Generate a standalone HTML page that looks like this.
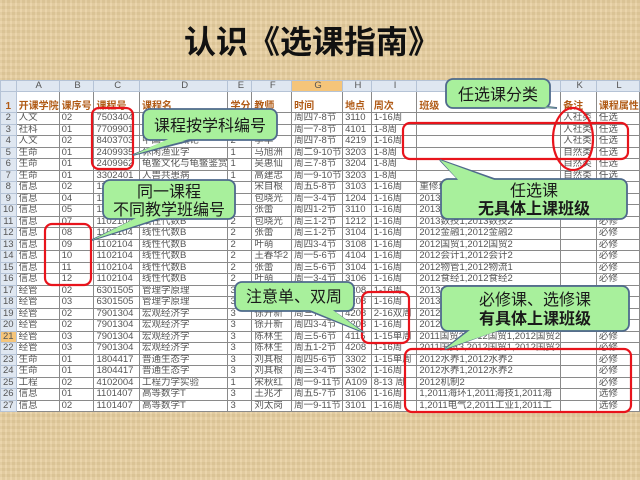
<!DOCTYPE html>
<html><head><meta charset="utf-8"><style>
body{margin:0;width:640px;height:480px;overflow:hidden;background:#e8cf9f;position:relative;font-family:"Liberation Sans","Noto Sans CJK SC",sans-serif}
.bg{position:absolute;inset:0;background:repeating-linear-gradient(90deg,rgba(255,255,255,.08) 0 2px,rgba(0,0,0,.03) 2px 5px),repeating-linear-gradient(0deg,rgba(255,255,255,.06) 0 3px,rgba(0,0,0,.03) 3px 6px)}
h1{position:absolute;left:0;width:624px;top:17px;margin:0;text-align:center;font:bold 32px "Liberation Sans","Noto Sans CJK SC",sans-serif;color:#111}
table{position:absolute;left:0;top:80px;border-collapse:collapse;table-layout:fixed;background:#fff;font-size:9.5px;color:#555}
td{border:1px solid #8a8a8a;padding:0 0 0 2px;height:10.5px;line-height:10px;white-space:nowrap;overflow:hidden}
tr.l td{background:#dfe7f1;color:#555;text-align:center;height:10px;border-color:#b5c3d6}
tr.h td{height:20px;color:#b05a15;font-weight:bold;vertical-align:bottom;font-size:10px}
td:first-child{background:#dfe7f1;color:#555;text-align:center;padding:0;border-color:#b5c3d6}
.o{background:#f5c57a!important}
svg{position:absolute;left:0;top:0}
</style></head><body><div class="bg"></div>
<h1>认识《选课指南》</h1>
<table>
<colgroup><col style="width:16px"><col style="width:41px"><col style="width:35px"><col style="width:46px"><col style="width:85px"><col style="width:24px"><col style="width:40px"><col style="width:51px"><col style="width:29px"><col style="width:46px"><col style="width:144px"><col style="width:36px"><col style="width:43px"></colgroup>
<tr class="l"><td></td><td>A</td><td>B</td><td>C</td><td>D</td><td>E</td><td>F</td><td class="o">G</td><td>H</td><td>I</td><td>J</td><td>K</td><td>L</td></tr>
<tr class="h"><td>1</td><td>开课学院</td><td>课序号</td><td>课程号</td><td>课程名</td><td>学分</td><td>教师</td><td>时间</td><td>地点</td><td>周次</td><td>班级</td><td>备注</td><td>课程属性</td></tr>
<tr><td>2</td><td>人文</td><td>02</td><td>7503404</td><td>诗词鉴赏</td><td>2</td><td>李明</td><td>周四7-8节</td><td>3110</td><td>1-16周</td><td></td><td>人社类</td><td>任选</td></tr>
<tr><td>3</td><td>社科</td><td>01</td><td>7709901</td><td>人文社科导论</td><td>1</td><td>王平</td><td>周一7-8节</td><td>4101</td><td>1-8周</td><td></td><td>人社类</td><td>任选</td></tr>
<tr><td>4</td><td>人文</td><td>02</td><td>8403703</td><td>中国文化概论</td><td>2</td><td>李华</td><td>周四7-8节</td><td>4219</td><td>1-16周</td><td></td><td>人社类</td><td>任选</td></tr>
<tr><td>5</td><td>生命</td><td>01</td><td>2409935</td><td>休闲渔业学</td><td>1</td><td>马旭洲</td><td>周二9-10节</td><td>3203</td><td>1-8周</td><td></td><td>自然类</td><td>任选</td></tr>
<tr><td>6</td><td>生命</td><td>01</td><td>2409962</td><td>龟鳖文化与龟鳖鉴赏</td><td>1</td><td>吴惠仙</td><td>周三7-8节</td><td>3204</td><td>1-8周</td><td></td><td>自然类</td><td>任选</td></tr>
<tr><td>7</td><td>生命</td><td>01</td><td>3302401</td><td>人兽共患病</td><td>1</td><td>高建忠</td><td>周一9-10节</td><td>3203</td><td>1-8周</td><td></td><td>自然类</td><td>任选</td></tr>
<tr><td>8</td><td>信息</td><td>02</td><td>1102104</td><td>线性代数B</td><td>2</td><td>宋自根</td><td>周五5-8节</td><td>3103</td><td>1-16周</td><td>重修班</td><td></td><td>必修</td></tr>
<tr><td>9</td><td>信息</td><td>04</td><td>1102104</td><td>线性代数B</td><td>2</td><td>包晓光</td><td>周一3-4节</td><td>1204</td><td>1-16周</td><td>2013制药1,2013制药2</td><td></td><td>必修</td></tr>
<tr><td>10</td><td>信息</td><td>05</td><td>1102104</td><td>线性代数B</td><td>2</td><td>张蕾</td><td>周四1-2节</td><td>3110</td><td>1-16周</td><td>2013计算1,2013计算2</td><td></td><td>必修</td></tr>
<tr><td>11</td><td>信息</td><td>07</td><td>1102104</td><td>线性代数B</td><td>2</td><td>包晓光</td><td>周三1-2节</td><td>1212</td><td>1-16周</td><td>2013数技1,2013数技2</td><td></td><td>必修</td></tr>
<tr><td>12</td><td>信息</td><td>08</td><td>1102104</td><td>线性代数B</td><td>2</td><td>张蕾</td><td>周三1-2节</td><td>3104</td><td>1-16周</td><td>2012金融1,2012金融2</td><td></td><td>必修</td></tr>
<tr><td>13</td><td>信息</td><td>09</td><td>1102104</td><td>线性代数B</td><td>2</td><td>叶萌</td><td>周四3-4节</td><td>3108</td><td>1-16周</td><td>2012国贸1,2012国贸2</td><td></td><td>必修</td></tr>
<tr><td>14</td><td>信息</td><td>10</td><td>1102104</td><td>线性代数B</td><td>2</td><td>王春华2</td><td>周一5-6节</td><td>4104</td><td>1-16周</td><td>2012会计1,2012会计2</td><td></td><td>必修</td></tr>
<tr><td>15</td><td>信息</td><td>11</td><td>1102104</td><td>线性代数B</td><td>2</td><td>张蕾</td><td>周三5-6节</td><td>3104</td><td>1-16周</td><td>2012物管1,2012物流1</td><td></td><td>必修</td></tr>
<tr><td>16</td><td>信息</td><td>12</td><td>1102104</td><td>线性代数B</td><td>2</td><td>叶萌</td><td>周一3-4节</td><td>3106</td><td>1-16周</td><td>2012食经1,2012食经2</td><td></td><td>必修</td></tr>
<tr><td>17</td><td>经管</td><td>02</td><td>6301505</td><td>管理学原理</td><td>3</td><td>张明</td><td>周二1-2节</td><td>4208</td><td>1-16周</td><td>2013会计1,2013会计2</td><td></td><td>必修</td></tr>
<tr><td>18</td><td>经管</td><td>03</td><td>6301505</td><td>管理学原理</td><td>3</td><td>张明</td><td>周四1-2节</td><td>4208</td><td>1-16周</td><td>2013食经1,2013食经2</td><td></td><td>必修</td></tr>
<tr><td>19</td><td>经管</td><td>02</td><td>7901304</td><td>宏观经济学</td><td>3</td><td>徐开新</td><td>周三7-8节</td><td>4208</td><td>2-16双周</td><td>2012会计1,2012会计2</td><td></td><td>必修</td></tr>
<tr><td>20</td><td>经管</td><td>02</td><td>7901304</td><td>宏观经济学</td><td>3</td><td>徐开新</td><td>周四3-4节</td><td>4208</td><td>1-16周</td><td>2012会计1,2012会计2</td><td></td><td>必修</td></tr>
<tr><td class="o">21</td><td>经管</td><td>03</td><td>7901304</td><td>宏观经济学</td><td>3</td><td>陈林生</td><td>周三5-6节</td><td>4115</td><td>1-15单周</td><td>2011国贸3,2012国贸1,2012国贸2</td><td></td><td>必修</td></tr>
<tr><td>22</td><td>经管</td><td>03</td><td>7901304</td><td>宏观经济学</td><td>3</td><td>陈林生</td><td>周五1-2节</td><td>4208</td><td>1-16周</td><td>2011国贸3,2012国贸1,2012国贸2</td><td></td><td>必修</td></tr>
<tr><td>23</td><td>生命</td><td>01</td><td>1804417</td><td>普通生态学</td><td>3</td><td>刘其根</td><td>周四5-6节</td><td>3302</td><td>1-15单周</td><td>2012水养1,2012水养2</td><td></td><td>必修</td></tr>
<tr><td>24</td><td>生命</td><td>01</td><td>1804417</td><td>普通生态学</td><td>3</td><td>刘其根</td><td>周三3-4节</td><td>3302</td><td>1-16周</td><td>2012水养1,2012水养2</td><td></td><td>必修</td></tr>
<tr><td>25</td><td>工程</td><td>02</td><td>4102004</td><td>工程力学实验</td><td>1</td><td>宋秋红</td><td>周一9-11节</td><td>A109</td><td>8-13 周</td><td>2012机制2</td><td></td><td>必修</td></tr>
<tr><td>26</td><td>信息</td><td>01</td><td>1101407</td><td>高等数学T</td><td>3</td><td>王兆才</td><td>周五5-7节</td><td>3106</td><td>1-16周</td><td>1,2011海环1,2011海技1,2011海</td><td></td><td>选修</td></tr>
<tr><td>27</td><td>信息</td><td>02</td><td>1101407</td><td>高等数学T</td><td>3</td><td>刘太岗</td><td>周一9-11节</td><td>3101</td><td>1-16周</td><td>1,2011电气2,2011工业1,2011工</td><td></td><td>选修</td></tr>
</table>
<svg width="640" height="480" viewBox="0 0 640 480">
<g fill="none" stroke="#e8141c" stroke-width="2.2">
<rect x="92" y="108" width="41" height="61" rx="7"/>
<rect x="45" y="224" width="46" height="61" rx="7"/>
<rect x="403" y="123" width="225" height="36" rx="7"/>
<ellipse cx="573" cy="139" rx="20" ry="31"/>
<rect x="362" y="292" width="47" height="51" rx="7"/>
<rect x="405" y="349" width="226" height="63" rx="7"/>
</g>
<g fill="#a8f09c" stroke="#4f6a8c" stroke-width="1.8">
<polygon points="175,138 133,155 200,138"/><rect x="143" y="109" width="134" height="31" rx="7"/><polygon points="175,136 133,155 200,136" stroke="none"/>
<polygon points="140,217 92,240 165,217"/><rect x="103" y="180" width="132" height="39" rx="7"/><polygon points="140,216 92,240 165,216" stroke="none"/>
<polygon points="525,106 557,108 540,106"/><rect x="446" y="79" width="104" height="29" rx="7"/><polygon points="520,106 557,108 540,106" stroke="none"/>
<polygon points="460,181 440,160 500,181"/><rect x="441" y="179" width="186" height="40" rx="7"/><polygon points="460,182 440,160 500,182" stroke="none"/>
<polygon points="305,309 363,332 330,309"/><rect x="235" y="282" width="119" height="29" rx="7"/><polygon points="305,308 363,332 330,308" stroke="none"/>
<polygon points="470,329 445,349 500,329"/><rect x="441" y="286" width="188" height="45" rx="7"/><polygon points="470,330 445,349 500,330" stroke="none"/>
</g>
<g font-family="Liberation Sans,Noto Sans CJK SC,sans-serif" font-size="16" fill="#1a1a1a" text-anchor="middle">
<text x="210" y="131">课程按学科编号</text>
<text x="169" y="197">同一课程</text>
<text x="169" y="215">不同教学班编号</text>
<text x="498" y="100">任选课分类</text>
<text x="534" y="196">任选课</text>
<text x="534" y="214" font-weight="bold">无具体上课班级</text>
<text x="294" y="302">注意单、双周</text>
<text x="535" y="305">必修课、选修课</text>
<text x="535" y="324" font-weight="bold">有具体上课班级</text>
</g>
</svg>
</body></html>
